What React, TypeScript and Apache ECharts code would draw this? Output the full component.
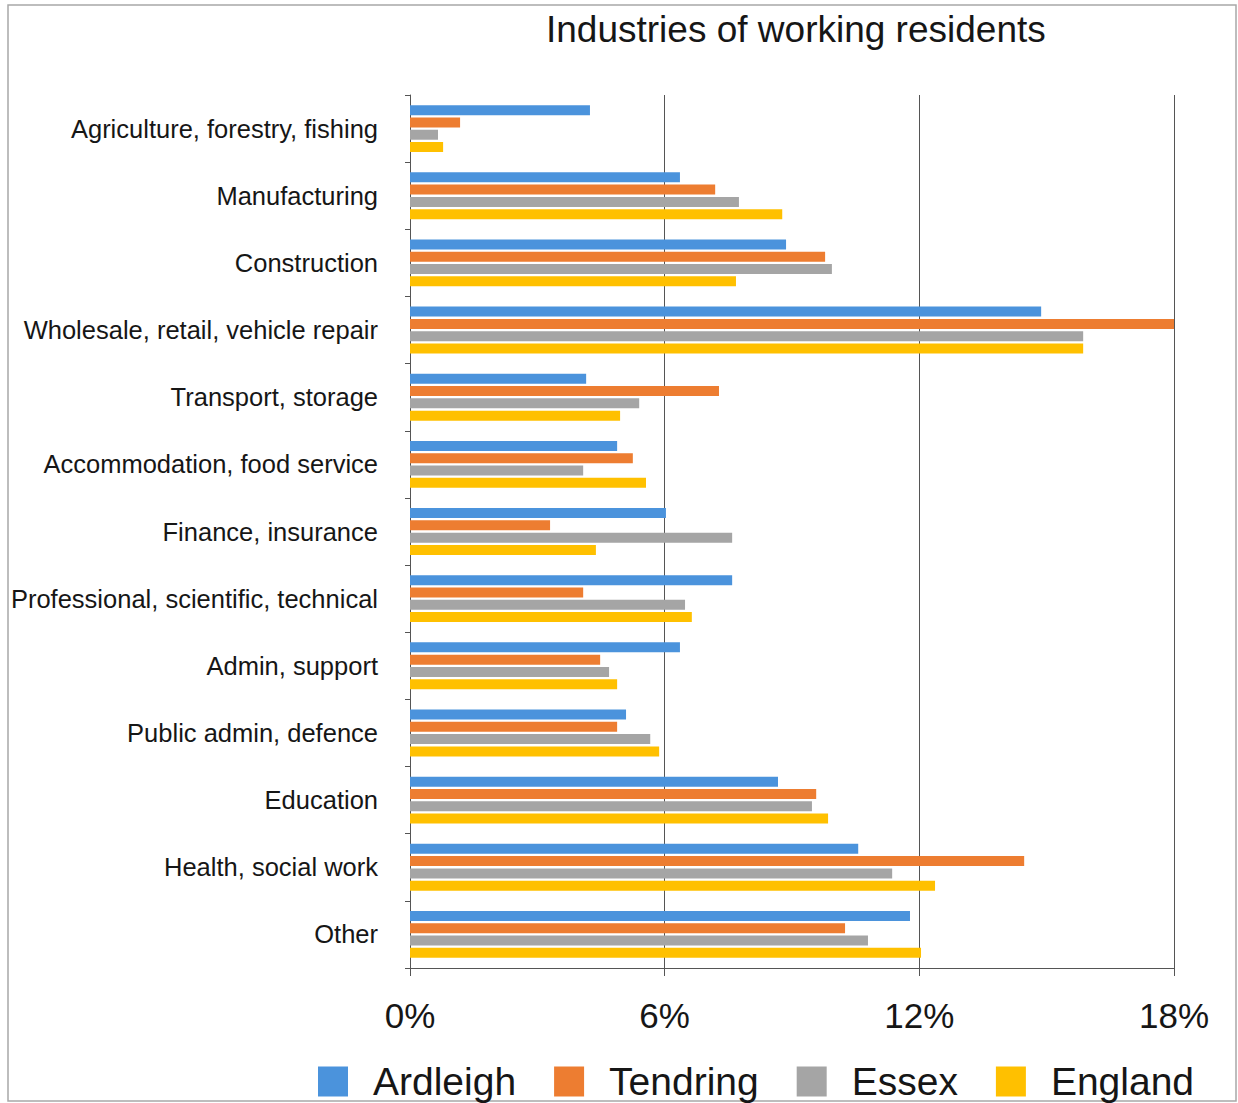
import React, { useEffect, useRef } from "react";
import * as echarts from "echarts";

const categories = [
  "Agriculture, forestry, fishing",
  "Manufacturing",
  "Construction",
  "Wholesale, retail, vehicle repair",
  "Transport, storage",
  "Accommodation, food service",
  "Finance, insurance",
  "Professional, scientific, technical",
  "Admin, support",
  "Public admin, defence",
  "Education",
  "Health, social work",
  "Other",
];

const ardleigh = [4.24, 6.36, 8.86, 14.87, 4.15, 4.88, 6.03, 7.59, 6.36, 5.09, 8.67, 10.56, 11.78];
const tendring = [1.18, 7.19, 9.78, 18.0, 7.28, 5.25, 3.3, 4.08, 4.48, 4.88, 9.57, 14.47, 10.25];
const essex = [0.66, 7.75, 9.94, 15.86, 5.4, 4.08, 7.59, 6.48, 4.69, 5.66, 9.47, 11.36, 10.79];
const england = [0.78, 8.77, 7.68, 15.86, 4.95, 5.56, 4.38, 6.64, 4.88, 5.87, 9.85, 12.37, 12.04];

const seriesNames = ["Ardleigh", "Tendring", "Essex", "England"];
const seriesColors = ["#4b93dc", "#ed7d31", "#a5a5a5", "#ffc000"];
const xTicks = { min: 0, max: 18, interval: 6 };
const titleText = "Industries of working residents";

const FONT = "'Liberation Sans', Arial, Helvetica, sans-serif";

export default function App() {
  const ref = useRef<HTMLDivElement>(null);
  useEffect(() => {
    if (!ref.current) return;
    const chart = echarts.init(ref.current, null, { renderer: "svg" });
    const allData = [ardleigh, tendring, essex, england];
    chart.setOption({
      animation: false,
      backgroundColor: "#ffffff",
      textStyle: { fontFamily: FONT },
      title: {
        text: titleText,
        left: 541,
        top: 6,
        textStyle: { fontSize: 37, fontWeight: "normal", color: "#161616", fontFamily: FONT },
      },
      graphic: [
        {
          type: "rect",
          shape: { x: 8, y: 5, width: 1228, height: 1096 },
          style: { fill: "none", stroke: "#a8a8a8", lineWidth: 1.5 },
          silent: true,
        },
      ],
      legend: {
        data: seriesNames,
        left: 318,
        top: 1062,
        padding: 0,
        itemWidth: 30,
        itemHeight: 30,
        itemGap: 38,
        icon: "rect",
        textStyle: { fontSize: 39, color: "#161616", fontFamily: FONT, padding: [0, 0, 0, 20] },
      },
      grid: { left: 410, right: 64, top: 95, bottom: 135, containLabel: false },
      xAxis: {
        type: "value",
        min: xTicks.min,
        max: xTicks.max,
        interval: xTicks.interval,
        axisLabel: {
          formatter: "{value}%",
          fontSize: 35,
          color: "#161616",
          margin: 30,
          fontFamily: FONT,
        },
        axisLine: { show: true, lineStyle: { color: "#555", width: 1 } },
        axisTick: { show: true, length: 8, lineStyle: { color: "#555" } },
        splitLine: { show: true, lineStyle: { color: "#555", width: 1 } },
      },
      yAxis: {
        type: "category",
        data: categories,
        inverse: true,
        axisLabel: { fontSize: 25.5, color: "#161616", margin: 32, fontFamily: FONT },
        axisLine: { show: true, lineStyle: { color: "#555", width: 1 } },
        axisTick: { show: true, length: 5, alignWithLabel: false, lineStyle: { color: "#555" } },
        splitLine: { show: false },
      },
      series: seriesNames.map((name, i) => ({
        name,
        type: "bar",
        data: allData[i],
        barWidth: 10,
        barGap: "23%",
        itemStyle: { color: seriesColors[i] },
      })),
    });
    return () => chart.dispose();
  }, []);
  return (
    <div
      ref={ref}
      style={{ position: "absolute", left: 0, top: 0, width: 1238, height: 1103 }}
    />
  );
}
